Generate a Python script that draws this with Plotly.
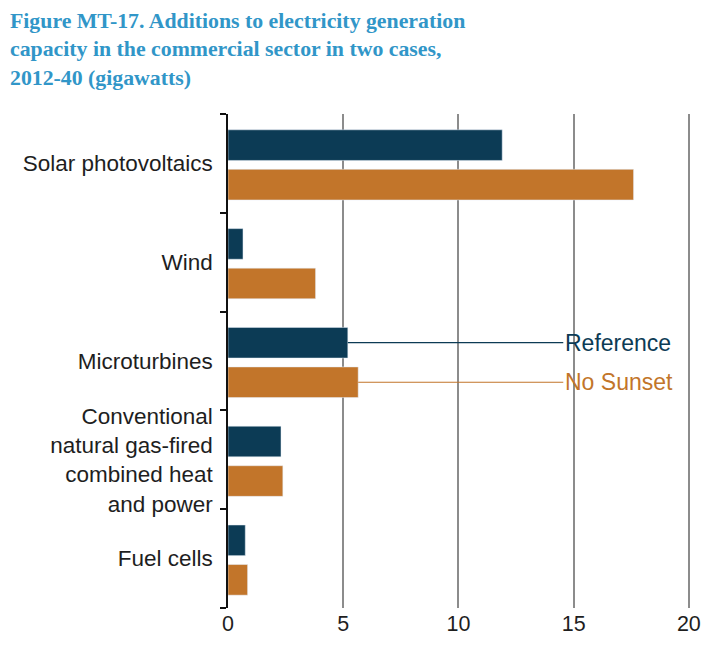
import plotly.graph_objects as go

# 값은 그림에서 읽은 추정치 (GW)
categories = [
    "Solar photovoltaics",
    "Wind",
    "Microturbines",
    "Conventional<br>natural gas-fired<br>combined heat<br>and power",
    "Fuel cells",
]
reference = [11.9, 0.65, 5.2, 2.3, 0.75]
no_sunset = [17.6, 3.8, 5.65, 2.38, 0.85]
x_ticks = [0, 5, 10, 15, 20]

_REF_COLOR = "#0c3b55"
_NS_COLOR = "#c2752a"
_TITLE_COLOR = "#3196c8"

# 페이지 body 여백(8px)만큼 줄여서 창 안에 딱 맞춘다 (오른쪽 "20" 잘림 방지)
W, H = 694, 630
M_L, M_R, M_T, M_B = 220, 12, 106, 30
PLOT_W = W - M_L - M_R
PLOT_H = H - M_T - M_B

BAR_W = 0.31
REF_OFFSET = -0.34
NS_OFFSET = 0.06
LABEL_AT = 14.55  # 라벨이 시작하는 x (데이터 단위)
LABEL_ROW = 2  # Microturbines 행에 라벨을 붙인다

pos = list(range(len(categories)))

fig = go.Figure()
fig.add_trace(
    go.Bar(
        y=pos, x=reference, orientation="h", name="Reference",
        width=BAR_W, offset=REF_OFFSET, marker_color=_REF_COLOR,
    )
)
fig.add_trace(
    go.Bar(
        y=pos, x=no_sunset, orientation="h", name="No Sunset",
        width=BAR_W, offset=NS_OFFSET, marker_color=_NS_COLOR,
    )
)

# 리더 라인 + 라벨
for vals, off, color, text in (
    (reference, REF_OFFSET, _REF_COLOR, "Reference"),
    (no_sunset, NS_OFFSET, _NS_COLOR, "No Sunset"),
):
    yc = LABEL_ROW + off + BAR_W / 2
    fig.add_trace(
        go.Scatter(
            x=[vals[LABEL_ROW], LABEL_AT], y=[yc, yc], mode="lines",
            line={"color": color, "width": 1.2}, hoverinfo="skip",
        )
    )
    fig.add_annotation(
        x=LABEL_AT, y=yc, text=text, showarrow=False, xanchor="left",
        yanchor="middle", xshift=0,
        font={"family": "Liberation Sans, Arial", "size": 23, "color": color},
    )

# 제목은 좌상단에 고정 (컨테이너 기준 픽셀 → paper 좌표)
fig.add_annotation(
    text="<b>Figure MT-17. Additions to electricity generation<br>"
    "capacity in the commercial sector in two cases,<br>"
    "2012-40 (gigawatts)</b>",
    xref="paper", yref="paper",
    x=-M_L / PLOT_W, y=1 + (M_T + 1) / PLOT_H,
    xanchor="left", yanchor="top", align="left", showarrow=False,
    font={"family": "Liberation Serif, Times New Roman", "size": 21.8, "color": _TITLE_COLOR},
)

fig.update_layout(
    width=W,
    height=H,
    margin={"l": M_L, "r": M_R, "t": M_T, "b": M_B},
    paper_bgcolor="white",
    plot_bgcolor="white",
    showlegend=False,
    font={"family": "Liberation Sans, Arial", "color": "#1e1e1e"},
)
fig.update_xaxes(
    range=[0, 20.05],
    tickvals=x_ticks, automargin=False,
    showgrid=True, gridcolor="#8c8c8c", gridwidth=1.5,
    zeroline=False, showline=False, ticks="",
    tickfont={"size": 21.5, "color": "#1e1e1e"},
)
fig.update_yaxes(
    range=[4.5, -0.5], automargin=False,
    tickvals=pos, ticktext=categories,
    showgrid=False, zeroline=False,
    showline=True, linecolor="#111", linewidth=1.5,
    ticks="", ticklabelstandoff=9,
    minor={"tickvals": [p - 0.5 for p in pos] + [pos[-1] + 0.5], "ticks": "outside",
           "ticklen": 6, "tickcolor": "#111", "tickwidth": 1.5, "showgrid": False},
    tickfont={"size": 22.5, "color": "#1e1e1e"},
)

fig.write_html("out.html")
